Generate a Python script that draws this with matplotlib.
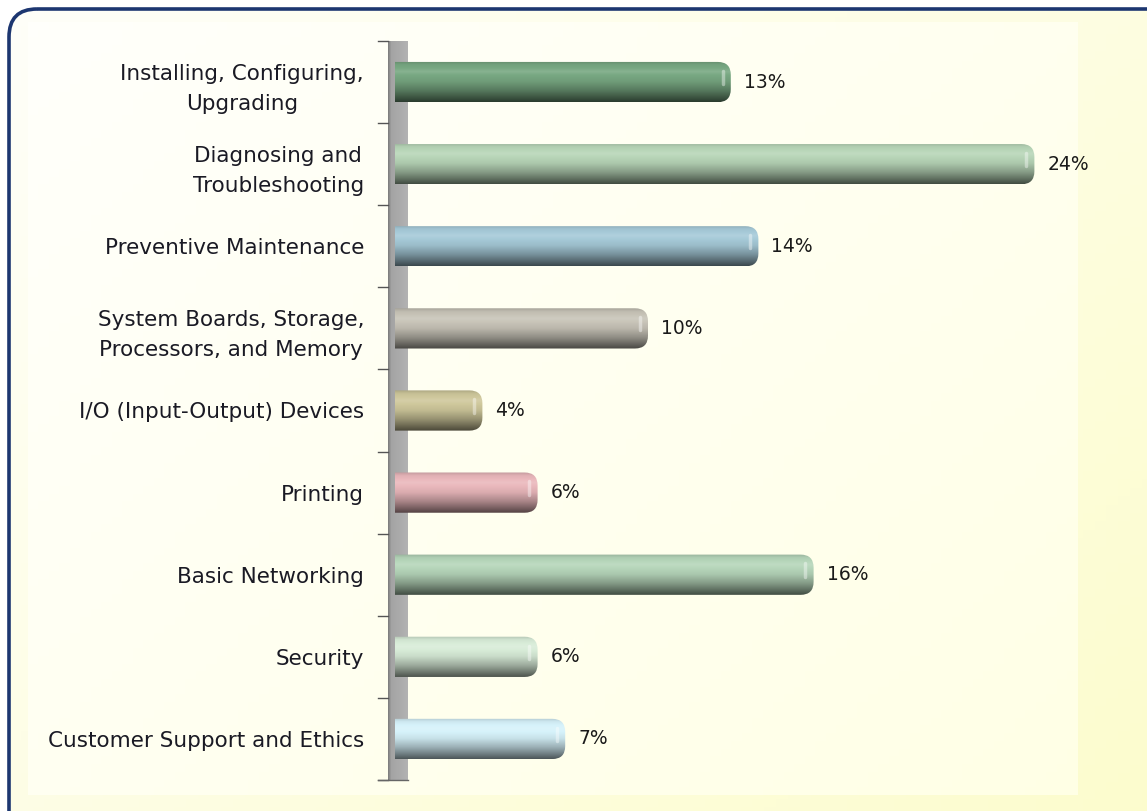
import numpy as np
import matplotlib
matplotlib.use("Agg")
import matplotlib.pyplot as plt
from matplotlib.patches import FancyBboxPatch, Rectangle
from matplotlib.colors import to_rgb

categories = [
    "Installing, Configuring,\nUpgrading",
    "Diagnosing and\nTroubleshooting",
    "Preventive Maintenance",
    "System Boards, Storage,\nProcessors, and Memory",
    "I/O (Input-Output) Devices",
    "Printing",
    "Basic Networking",
    "Security",
    "Customer Support and Ethics",
]
values = [13, 24, 14, 10, 4, 6, 16, 6, 7]
value_labels = ["13%", "24%", "14%", "10%", "4%", "6%", "16%", "6%", "7%"]
bar_colors = ["#78a882", "#b8d6b8", "#a6cad8", "#c8c4b8", "#cfc89c",
              "#eab8bc", "#b6d6ba", "#d8ecd8", "#d6f2fa"]

W, H = 1147, 811
fig = plt.figure(figsize=(W / 100, H / 100), dpi=100)
fig.patch.set_facecolor("white")

# ---- background (pixel coordinates) ----
bg = fig.add_axes([0, 0, 1, 1], zorder=-10)
bg.set_xlim(0, W)
bg.set_ylim(H, 0)
bg.axis("off")

yy, xx = np.mgrid[0:1:100j, 0:1:100j]
t = np.clip(0.55 * xx + 0.45 * yy, 0, 1)[..., None]
c0 = np.array([1.0, 1.0, 0.975])
c1 = np.array([0.99, 0.99, 0.80])
grad = c0 * (1 - t) + c1 * t
frame = FancyBboxPatch((9, 9), 1180, 840, boxstyle="round,pad=0,rounding_size=28",
                       facecolor="none", edgecolor="none", transform=bg.transData)
bg.add_patch(frame)
im = bg.imshow(grad, extent=[9, 1189, 849, 9], aspect="auto", zorder=0)
im.set_clip_path(frame)

# lighter plot area
c0b = np.array([1.0, 1.0, 0.985])
c1b = np.array([1.0, 1.0, 0.90])
grad2 = c0b * (1 - t) + c1b * t
bg.imshow(grad2, extent=[28, 1078, 795, 22], aspect="auto", zorder=1)
bg.set_xlim(0, W)
bg.set_ylim(H, 0)

border = FancyBboxPatch((9, 9), 1180, 840, boxstyle="round,pad=0,rounding_size=28",
                        facecolor="none", edgecolor="#1c3670", linewidth=2.6, zorder=5)
bg.add_patch(border)

# ---- main axes ----
px_left, px_right, px_top, px_bot = 395, 1078, 41, 780
ax = fig.add_axes([px_left / W, 1 - px_bot / H, (px_right - px_left) / W, (px_bot - px_top) / H])
ax.patch.set_alpha(0)
x_zero_px = 372.0
unit_px = 27.6
x0 = (px_left - x_zero_px) / unit_px
x1 = (px_right - x_zero_px) / unit_px

n = len(categories)
bar_h = 0.49
r_px = 13
rx = r_px / unit_px
ry = r_px / ((px_bot - px_top) / n)
aspect = ry / rx

# vertical profile of a cylinder
prof_t = np.linspace(0, 1, 60)
prof = np.interp(prof_t, [0, 0.08, 0.25, 0.5, 0.72, 0.88, 1.0],
                 [0.84, 0.96, 1.04, 0.93, 0.72, 0.52, 0.36])
for i, (v, col) in enumerate(zip(values, bar_colors)):
    base = np.array(to_rgb(col))
    img = np.clip(base[None, :] * prof[:, None], 0, 1)
    img = np.where(prof[:, None] > 1, np.clip(base + (prof[:, None] - 1) * 3 * (1 - base), 0, 1), img)
    img = img[:, None, :].repeat(2, axis=1)
    patch = FancyBboxPatch((0, i - bar_h / 2), v, bar_h,
                           boxstyle=f"round,pad=0,rounding_size={rx}",
                           mutation_aspect=aspect, facecolor="none", edgecolor="none")
    ax.add_patch(patch)
    bim = ax.imshow(img, extent=[0, v, i + bar_h / 2, i - bar_h / 2], aspect="auto",
                    interpolation="bilinear", zorder=3)
    bim.set_clip_path(patch)
    # subtle highlight near the rounded end
    ax.plot([v - 0.3, v - 0.3], [i - bar_h * 0.28, i + bar_h * 0.05], color="white",
            alpha=0.4, lw=2.5, solid_capstyle="round", zorder=4)
    ax.text(v + 13 / unit_px, i, value_labels[i], va="center", ha="left",
            fontsize=13.5, color="#1a1a1a", zorder=5)

ax.set_xlim(x0, x1)
ax.set_ylim(n - 0.5, -0.5)
ax.set_aspect("auto")
for s in ax.spines.values():
    s.set_visible(False)
ax.set_xticks([])
ax.set_yticks(range(n))
ax.set_yticklabels(categories, fontsize=15.5, color="#1a1a24")
for lab in ax.get_yticklabels():
    lab.set_multialignment("center")
    lab.set_linespacing(1.6)
ax.tick_params(axis="y", length=0, pad=(px_left - 364) * 0.72)

# wall and tick marks (pixel coordinates on background)
wall_grad = np.linspace(0, 1, 20)
wall_img = np.interp(wall_grad, [0, 0.15, 1], [0.5, 0.64, 0.7])
wall_rgb = np.stack([wall_img, wall_img, wall_img], axis=-1)[None, :, :]
bg.imshow(wall_rgb, extent=[388, 408, px_bot, px_top], aspect="auto", zorder=3)
bg.set_xlim(0, W)
bg.set_ylim(H, 0)
step = (px_bot - px_top) / n
for k in range(n + 1):
    yk = px_top + k * step
    bg.plot([378, 388], [yk, yk], color="#555555", lw=1.0, zorder=4)
bg.plot([378, 408], [px_bot, px_bot], color="#666666", lw=1.0, zorder=4)

fig.savefig("out.png", dpi=100)
